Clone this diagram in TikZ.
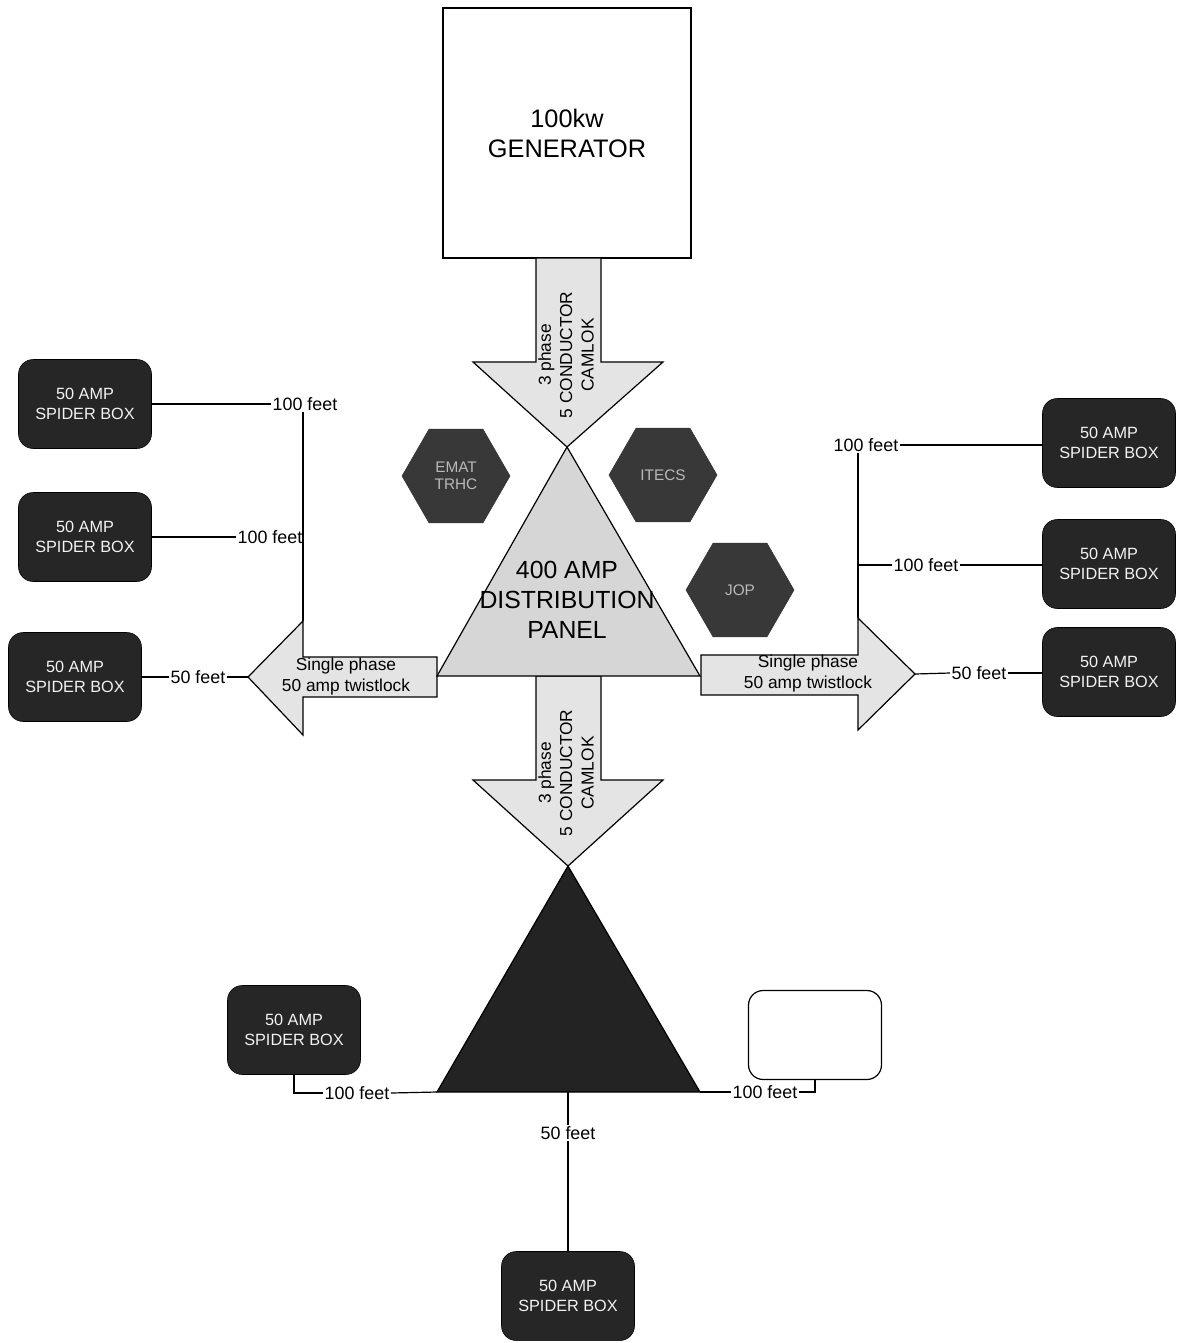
\documentclass[tikz,border=0pt]{standalone}
\usepackage{fontspec}
\setmainfont{Liberation Sans}
\usetikzlibrary{shapes.geometric}
\definecolor{boxdark}{HTML}{262626}
\definecolor{hexdark}{HTML}{383838}
\definecolor{tridark}{HTML}{232323}
\definecolor{lightstip}{HTML}{E4E4E4}
\definecolor{midstip}{HTML}{D6D6D6}
\begin{document}
\begin{tikzpicture}[x=0.75pt,y=-0.75pt,
  spider/.style={fill=boxdark, draw=black, rounded corners=11pt, minimum width=99.75pt,
    minimum height=66.75pt, text=white!90!gray, font=\fontsize{12.2}{14.5}\selectfont,
    align=center, inner sep=0pt},
  lbl/.style={font=\fontsize{13.4}{15}\selectfont, inner sep=1pt},
  shadefill/.style={fill=lightstip, draw=black, line width=0.9pt},
  wire/.style={line width=0.9pt},
  hexa/.style={regular polygon, regular polygon sides=6, minimum size=81pt, inner sep=0pt,
    fill=hexdark, draw=black!80, text=gray!55, font=\fontsize{11.5}{13}\selectfont, align=center},
  arrowtext/.style={font=\fontsize{13}{16}\selectfont, align=center, inner sep=0pt}
]
\useasboundingbox (0,0) rectangle (1178,1343);

% generator
\node[draw=black, line width=0.9pt, minimum width=186pt, minimum height=187.5pt, align=center,
  font=\fontsize{19}{22.5}\selectfont, inner sep=0pt] (gen) at (567,133) {100kw\\GENERATOR};

% coordinates
\coordinate (tA) at (567,447);
\coordinate (tL) at (437,676);
\coordinate (tR) at (700,676);
\coordinate (bA) at (568,866);
\coordinate (bL) at (437,1092);
\coordinate (bR) at (700,1092);
\coordinate (bBase) at (568,1092);
\coordinate (lhT) at (303,621);
\coordinate (lhTip) at (248,677);
\coordinate (rhT) at (858,618);
\coordinate (rhTip) at (915,674);

% top arrow
\draw[shadefill] (536,258) -- (536,362) -- (473,362) -- (tA) -- (663,362) -- (601,362) -- (601,258) -- cycle;
\node[arrowtext, rotate=90] (ta) at (566,355) {3 phase\\5 CONDUCTOR\\CAMLOK};

% bottom arrow
\draw[shadefill] (536,676) -- (536,780) -- (473,780) -- (bA) -- (663,780) -- (601,780) -- (601,676) -- cycle;
\node[arrowtext, rotate=90] (ba) at (566,773) {3 phase\\5 CONDUCTOR\\CAMLOK};

% left arrow
\draw[shadefill] (437,657) -- (303,657) -- (lhT) -- (lhTip) -- (303,735) -- (303,697) -- (437,697) -- cycle;
\node[arrowtext, font=\fontsize{13}{15.75}\selectfont] (la) at (346,677) {Single phase\\50 amp twistlock};

% right arrow
\draw[shadefill] (701,655) -- (858,655) -- (rhT) -- (rhTip) -- (858,730) -- (858,695) -- (701,695) -- cycle;
\node[arrowtext, font=\fontsize{13}{15.75}\selectfont] (ra) at (808,674) {Single phase\\50 amp twistlock};

% main triangle
\draw[fill=midstip, draw=black, line width=0.9pt] (tA) -- (tR) -- (tL) -- cycle;
\node[align=center, font=\fontsize{18.6}{22.5}\selectfont, inner sep=0pt] (panel) at (567,600) {400 AMP\\DISTRIBUTION\\PANEL};

% black triangle
\draw[fill=tridark, draw=black, line width=0.9pt] (bA) -- (bR) -- (bL) -- cycle;

% hexagons
\node[hexa] (emat) at (456,476) {EMAT\\TRHC};
\node[hexa] (itecs) at (663,475) {ITECS};
\node[hexa] (jop) at (740,590) {JOP};

% spider boxes
\node[spider] (L1) at (85,404) {50 AMP\\SPIDER BOX};
\node[spider] (L2) at (85,537) {50 AMP\\SPIDER BOX};
\node[spider] (L3) at (75,677) {50 AMP\\SPIDER BOX};
\node[spider] (R1) at (1109,443) {50 AMP\\SPIDER BOX};
\node[spider] (R2) at (1109,564) {50 AMP\\SPIDER BOX};
\node[spider] (R3) at (1109,672) {50 AMP\\SPIDER BOX};
\node[spider] (B1) at (294,1030) {50 AMP\\SPIDER BOX};
\node[spider] (B3) at (568,1296) {50 AMP\\SPIDER BOX};
\node[spider, fill=white, draw=black, line width=0.9pt] (B2) at (815,1035) {};

% left wires
\node[lbl] (w1) at (305,404) {100 feet};
\draw[wire] (L1.east) -- (w1.west);
\draw[wire] (lhT |- w1.south) -- (lhT);
\node[lbl] (w2) at (270,537) {100 feet};
\draw[wire] (L2.east) -- (w2.west);
\node[lbl] (w3) at (198,677) {50 feet};
\draw[wire] (L3.east) -- (w3.west);
\draw[wire] (w3.east) -- (lhTip);

% right wires
\node[lbl] (v1) at (866,445) {100 feet};
\draw[wire] (v1.east) -- (v1.east -| R1.west);
\draw[wire] (rhT |- v1.south) -- (rhT);
\node[lbl] (v2) at (926,565) {100 feet};
\draw[wire] (v2.west -| rhT) -- (v2.west);
\draw[wire] (v2.east) -- (v2.east -| R2.west);
\node[lbl] (v3) at (979,673) {50 feet};
\draw[wire] (rhTip) -- (v3.west);
\draw[wire] (v3.east) -- (v3.east -| R3.west);

% bottom wires
\node[lbl] (u1) at (357,1093) {100 feet};
\draw[wire] (B1.south) -- (B1.south |- u1.west) -- (u1.west);
\draw[wire] (u1.east) -- (bL);
\node[lbl] (u2) at (765,1092) {100 feet};
\draw[wire] (bR) -- (u2.west);
\draw[wire] (u2.east) -- (u2.east -| B2.south) -- (B2.south);
\node[lbl] (u3) at (568,1133) {50 feet};
\draw[wire] (bBase) -- (u3.north);
\draw[wire] (u3.south) -- (B3.north);
\end{tikzpicture}
\end{document}
